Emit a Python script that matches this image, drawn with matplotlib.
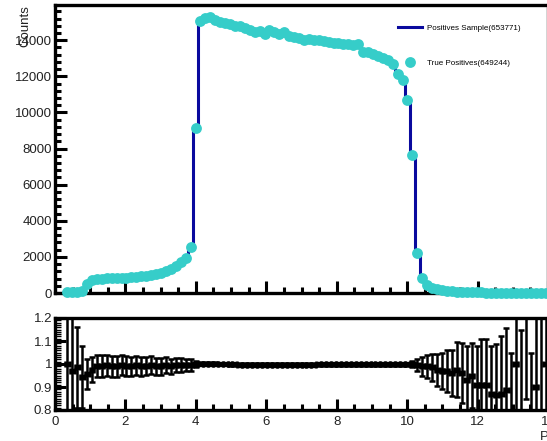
import numpy as np
import matplotlib
matplotlib.use("Agg")
import matplotlib.pyplot as plt
from matplotlib.ticker import MultipleLocator
from matplotlib.lines import Line2D

plt.rcParams['font.family'] = ['Liberation Sans', 'DejaVu Sans']

# histogram binning: 100 bins over 0..14
bin_lo = 0.0
bin_hi = 14.0
n_bins = 100

# Positives sample, counts per bin
pos = [0, 0, 40, 50, 70, 120, 520, 730, 790, 810,
       820, 830, 840, 850, 860, 880, 900, 930, 960, 1000,
       1050, 1120, 1200, 1320, 1480, 1700, 1950, 2580, 9150, 15050,
       15200, 15250, 15100, 15000, 14950, 14900, 14800, 14850, 14700, 14600,
       14500, 14550, 14400, 14600, 14500, 14400, 14500, 14300, 14200, 14150,
       14050, 14100, 14050, 14050, 14000, 13950, 13900, 13850, 13800, 13800,
       13750, 13800, 13400, 13350, 13250, 13150, 13050, 12950, 12700, 12150,
       11800, 10700, 7650, 2200, 850, 450, 300, 220, 170, 130,
       105, 85, 70, 60, 50, 42, 36, 30, 26, 22,
       19, 16, 14, 12, 10, 9, 8, 7, 6, 5]

# ratio true positives / positives sample and its error
ratio = [np.nan, np.nan, 1.0, 0.97, 0.985, 0.945, 0.955, 0.975, 0.99, 0.99,
         0.995, 0.99, 0.99, 0.995, 0.99, 0.99, 0.995, 0.99, 0.99, 0.995,
         0.99, 0.99, 0.995, 0.99, 0.995, 0.995, 0.995, 0.995, 1.0, 1.002,
         1.002, 1.002, 1.001, 1.0, 1.0, 0.998, 0.998, 0.997, 0.997, 0.997,
         0.997, 0.997, 0.997, 0.997, 0.997, 0.997, 0.997, 0.997, 0.997, 0.997,
         0.997, 0.997, 0.997, 0.998, 0.998, 0.998, 0.998, 0.998, 0.998, 0.998,
         0.998, 0.998, 0.998, 0.998, 0.998, 0.998, 0.998, 0.998, 0.998, 0.998,
         0.998, 0.998, 1.0, 0.995, 0.99, 0.99, 0.985, 0.975, 0.97, 0.97,
         0.96, 0.975, 0.96, 0.93, 0.95, 0.91, 0.91, 0.91, 0.87, 0.865,
         0.87, 0.885, 0.7, 1.0, 0.75, 1.3, 0.65, 0.9, 1.25, 1.0]
ratio_err = [0, 0, 0.3, 0.3, 0.175, 0.135, 0.065, 0.055, 0.048, 0.047,
             0.046, 0.045, 0.045, 0.044, 0.043, 0.042, 0.041, 0.04, 0.039, 0.038,
             0.037, 0.036, 0.034, 0.033, 0.031, 0.029, 0.027, 0.025, 0.012, 0.006,
             0.006, 0.006, 0.006, 0.006, 0.006, 0.006, 0.006, 0.006, 0.006, 0.006,
             0.006, 0.006, 0.006, 0.006, 0.006, 0.006, 0.006, 0.006, 0.006, 0.006,
             0.006, 0.006, 0.006, 0.006, 0.006, 0.006, 0.006, 0.006, 0.006, 0.006,
             0.006, 0.006, 0.006, 0.006, 0.006, 0.006, 0.006, 0.006, 0.006, 0.006,
             0.006, 0.007, 0.012, 0.025, 0.04, 0.05, 0.06, 0.07, 0.08, 0.09,
             0.1, 0.12, 0.13, 0.15, 0.14, 0.17, 0.2, 0.2, 0.21, 0.22,
             0.25, 0.27, 0.35, 0.35, 0.4, 0.45, 0.4, 0.4, 0.5, 0.5]

label_pos = 'Positives Sample(653771)'
label_tp = 'True Positives(649244)'

navy = '#0a0a9e'
cyan = '#36cdc9'

edges = np.linspace(bin_lo, bin_hi, n_bins + 1)
centers = 0.5 * (edges[:-1] + edges[1:])
half_w = 0.5 * (edges[1] - edges[0])
pos = np.array(pos, dtype=float)
ratio = np.array(ratio)
tp = pos * ratio

W, H = 547, 441
fig = plt.figure(figsize=(W / 100, H / 100), dpi=100)
ax = fig.add_axes([55 / W, 1 - 293 / H, 493 / W, 288 / H])
ax2 = fig.add_axes([55 / W, 1 - 410 / H, 493 / W, 92 / H])

# top pad
ax.stairs(pos, edges, color=navy, lw=2.2, zorder=2)
ax.plot(centers, tp, 'o', color=cyan, ms=7.8, mew=0, zorder=3, clip_on=False)
ax.set_xlim(bin_lo, bin_hi)
ax.set_ylim(0, 15950)
ax.xaxis.set_major_locator(MultipleLocator(2))
ax.xaxis.set_minor_locator(MultipleLocator(0.5))
ax.yaxis.set_major_locator(MultipleLocator(2000))
ax.yaxis.set_minor_locator(MultipleLocator(400))
ax.tick_params(which='both', direction='in', top=False, right=False, width=2.2,
               labelsize=9.5, labelcolor='#222222')
ax.tick_params(which='major', length=8.5)
ax.tick_params(which='minor', length=4.5)
ax.tick_params(axis='x', labelbottom=False)
ax.tick_params(axis='y', pad=2)
for s in ax.spines.values():
    s.set_linewidth(2.4)

fig.text(25 / W, 1 - 5 / H, 'Counts', rotation=90, ha='center', va='top',
         fontsize=9.5, color='#222222')

handles = [Line2D([], [], color=navy, lw=2.2),
           Line2D([], [], ls='none', marker='o', color=cyan, ms=7.8, mew=0)]
ax.legend(handles, [label_pos, label_tp], loc='upper left',
          bbox_to_anchor=(398 / W, 1 - 24 / H), bbox_transform=fig.transFigure,
          frameon=False, fontsize=5.8, borderpad=0, borderaxespad=0,
          handlelength=3.0, handletextpad=0.6, labelspacing=3.4)

# ratio pad
ax2.errorbar(centers, ratio, xerr=half_w, yerr=ratio_err, fmt='s', ms=3.2,
             color='black', ecolor='black', elinewidth=1.8, capsize=2.0,
             capthick=1.8)
ax2.set_xlim(bin_lo, bin_hi)
ax2.set_ylim(0.8, 1.2)
ax2.xaxis.set_major_locator(MultipleLocator(2))
ax2.xaxis.set_minor_locator(MultipleLocator(0.5))
ax2.yaxis.set_minor_locator(MultipleLocator(0.01))
ax2.set_yticks([0.8, 0.9, 1.0, 1.1, 1.2])
ax2.set_yticklabels(['0.8', '0.9', '1', '1.1', '1.2'])
ax2.tick_params(which='both', direction='in', top=False, right=False,
                labelsize=9.5, labelcolor='#222222')
ax2.tick_params(which='major', length=8, width=2.2)
ax2.tick_params(axis='x', which='minor', length=4.5, width=2.2)
ax2.tick_params(axis='y', which='minor', length=4.5, width=1.0)
ax2.tick_params(axis='y', pad=2)
ax2.tick_params(axis='x', pad=4)
for s in ax2.spines.values():
    s.set_linewidth(2.4)

fig.text(539 / W, 1 - 437 / H, 'P$_T$', ha='left', va='center', fontsize=9.5,
         color='#222222')

fig.savefig('out.png', dpi=100)
